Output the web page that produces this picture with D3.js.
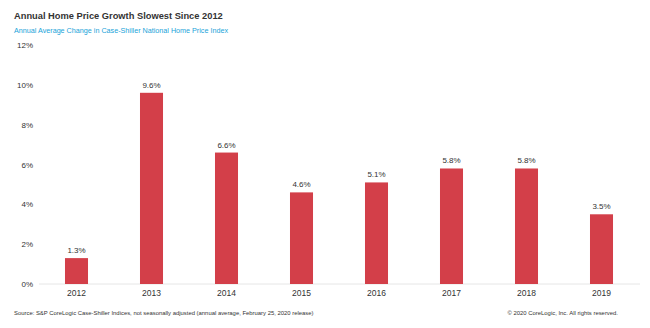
<!DOCTYPE html>
<html><head><meta charset="utf-8">
<script src="https://cdn.jsdelivr.net/npm/d3@7"></script>
<style>body{margin:0;background:#fff}svg{display:block;font-family:"Liberation Sans",Arial,sans-serif}</style>
</head><body><svg id="c" width="650" height="328"></svg>
<script>
const years = ["2012","2013","2014","2015","2016","2017","2018","2019"];
const values = [1.3, 9.6, 6.6, 4.6, 5.1, 5.8, 5.8, 3.5];
const yTicks = [0, 2, 4, 6, 8, 10, 12];

const svg = d3.select("#c");
const x = d3.scaleBand().domain(years).range([39, 639]).paddingInner(0.693).paddingOuter(0.3465);
const y = d3.scaleLinear().domain([0, 12]).range([284, 45]);

svg.append("text").attr("x", 14).attr("y", 19).attr("font-size", 9.3).attr("font-weight", "bold").attr("fill", "#333").text("Annual Home Price Growth Slowest Since 2012");
svg.append("text").attr("x", 14).attr("y", 33).attr("font-size", 7.2).attr("fill", "#1aa3d9").text("Annual Average Change in Case-Shiller National Home Price Index");

const ya = svg.append("g").attr("transform", "translate(33,0)")
  .call(d3.axisLeft(y).tickValues(yTicks).tickSize(0).tickPadding(0).tickFormat(d => d + "%"));
ya.select(".domain").remove();
ya.selectAll("text").attr("font-size", 8).attr("fill", "#333").attr("font-family", "Liberation Sans, Arial, sans-serif");

svg.append("line").attr("x1", 39).attr("x2", 640).attr("y1", y(0)).attr("y2", y(0)).attr("stroke", "#e6e6e6").attr("stroke-width", 1);

svg.selectAll("rect.bar").data(values).join("rect").attr("class", "bar")
  .attr("x", (d, i) => x(years[i])).attr("width", x.bandwidth())
  .attr("y", d => y(d)).attr("height", d => y(0) - y(d)).attr("fill", "#d33f49");

svg.selectAll("text.lbl").data(values).join("text").attr("class", "lbl")
  .attr("x", (d, i) => x(years[i]) + x.bandwidth() / 2).attr("y", d => y(d) - 5)
  .attr("text-anchor", "middle").attr("font-size", 8).attr("fill", "#333").text(d => d.toFixed(1) + "%");

const xa = svg.append("g").attr("transform", `translate(0,${y(0)})`)
  .call(d3.axisBottom(x).tickSize(0).tickPadding(6));
xa.select(".domain").remove();
xa.selectAll("text").attr("font-size", 8.5).attr("fill", "#333").attr("font-family", "Liberation Sans, Arial, sans-serif");

svg.append("text").attr("x", 14).attr("y", 315).attr("font-size", 5.9).attr("fill", "#333").text("Source:  S&P CoreLogic Case-Shiller Indices, not seasonally adjusted (annual average, February 25, 2020 release)");
svg.append("text").attr("x", 618).attr("y", 315).attr("text-anchor", "end").attr("font-size", 5.9).attr("fill", "#333").text("© 2020 CoreLogic, Inc. All rights reserved.");
</script></body></html>
